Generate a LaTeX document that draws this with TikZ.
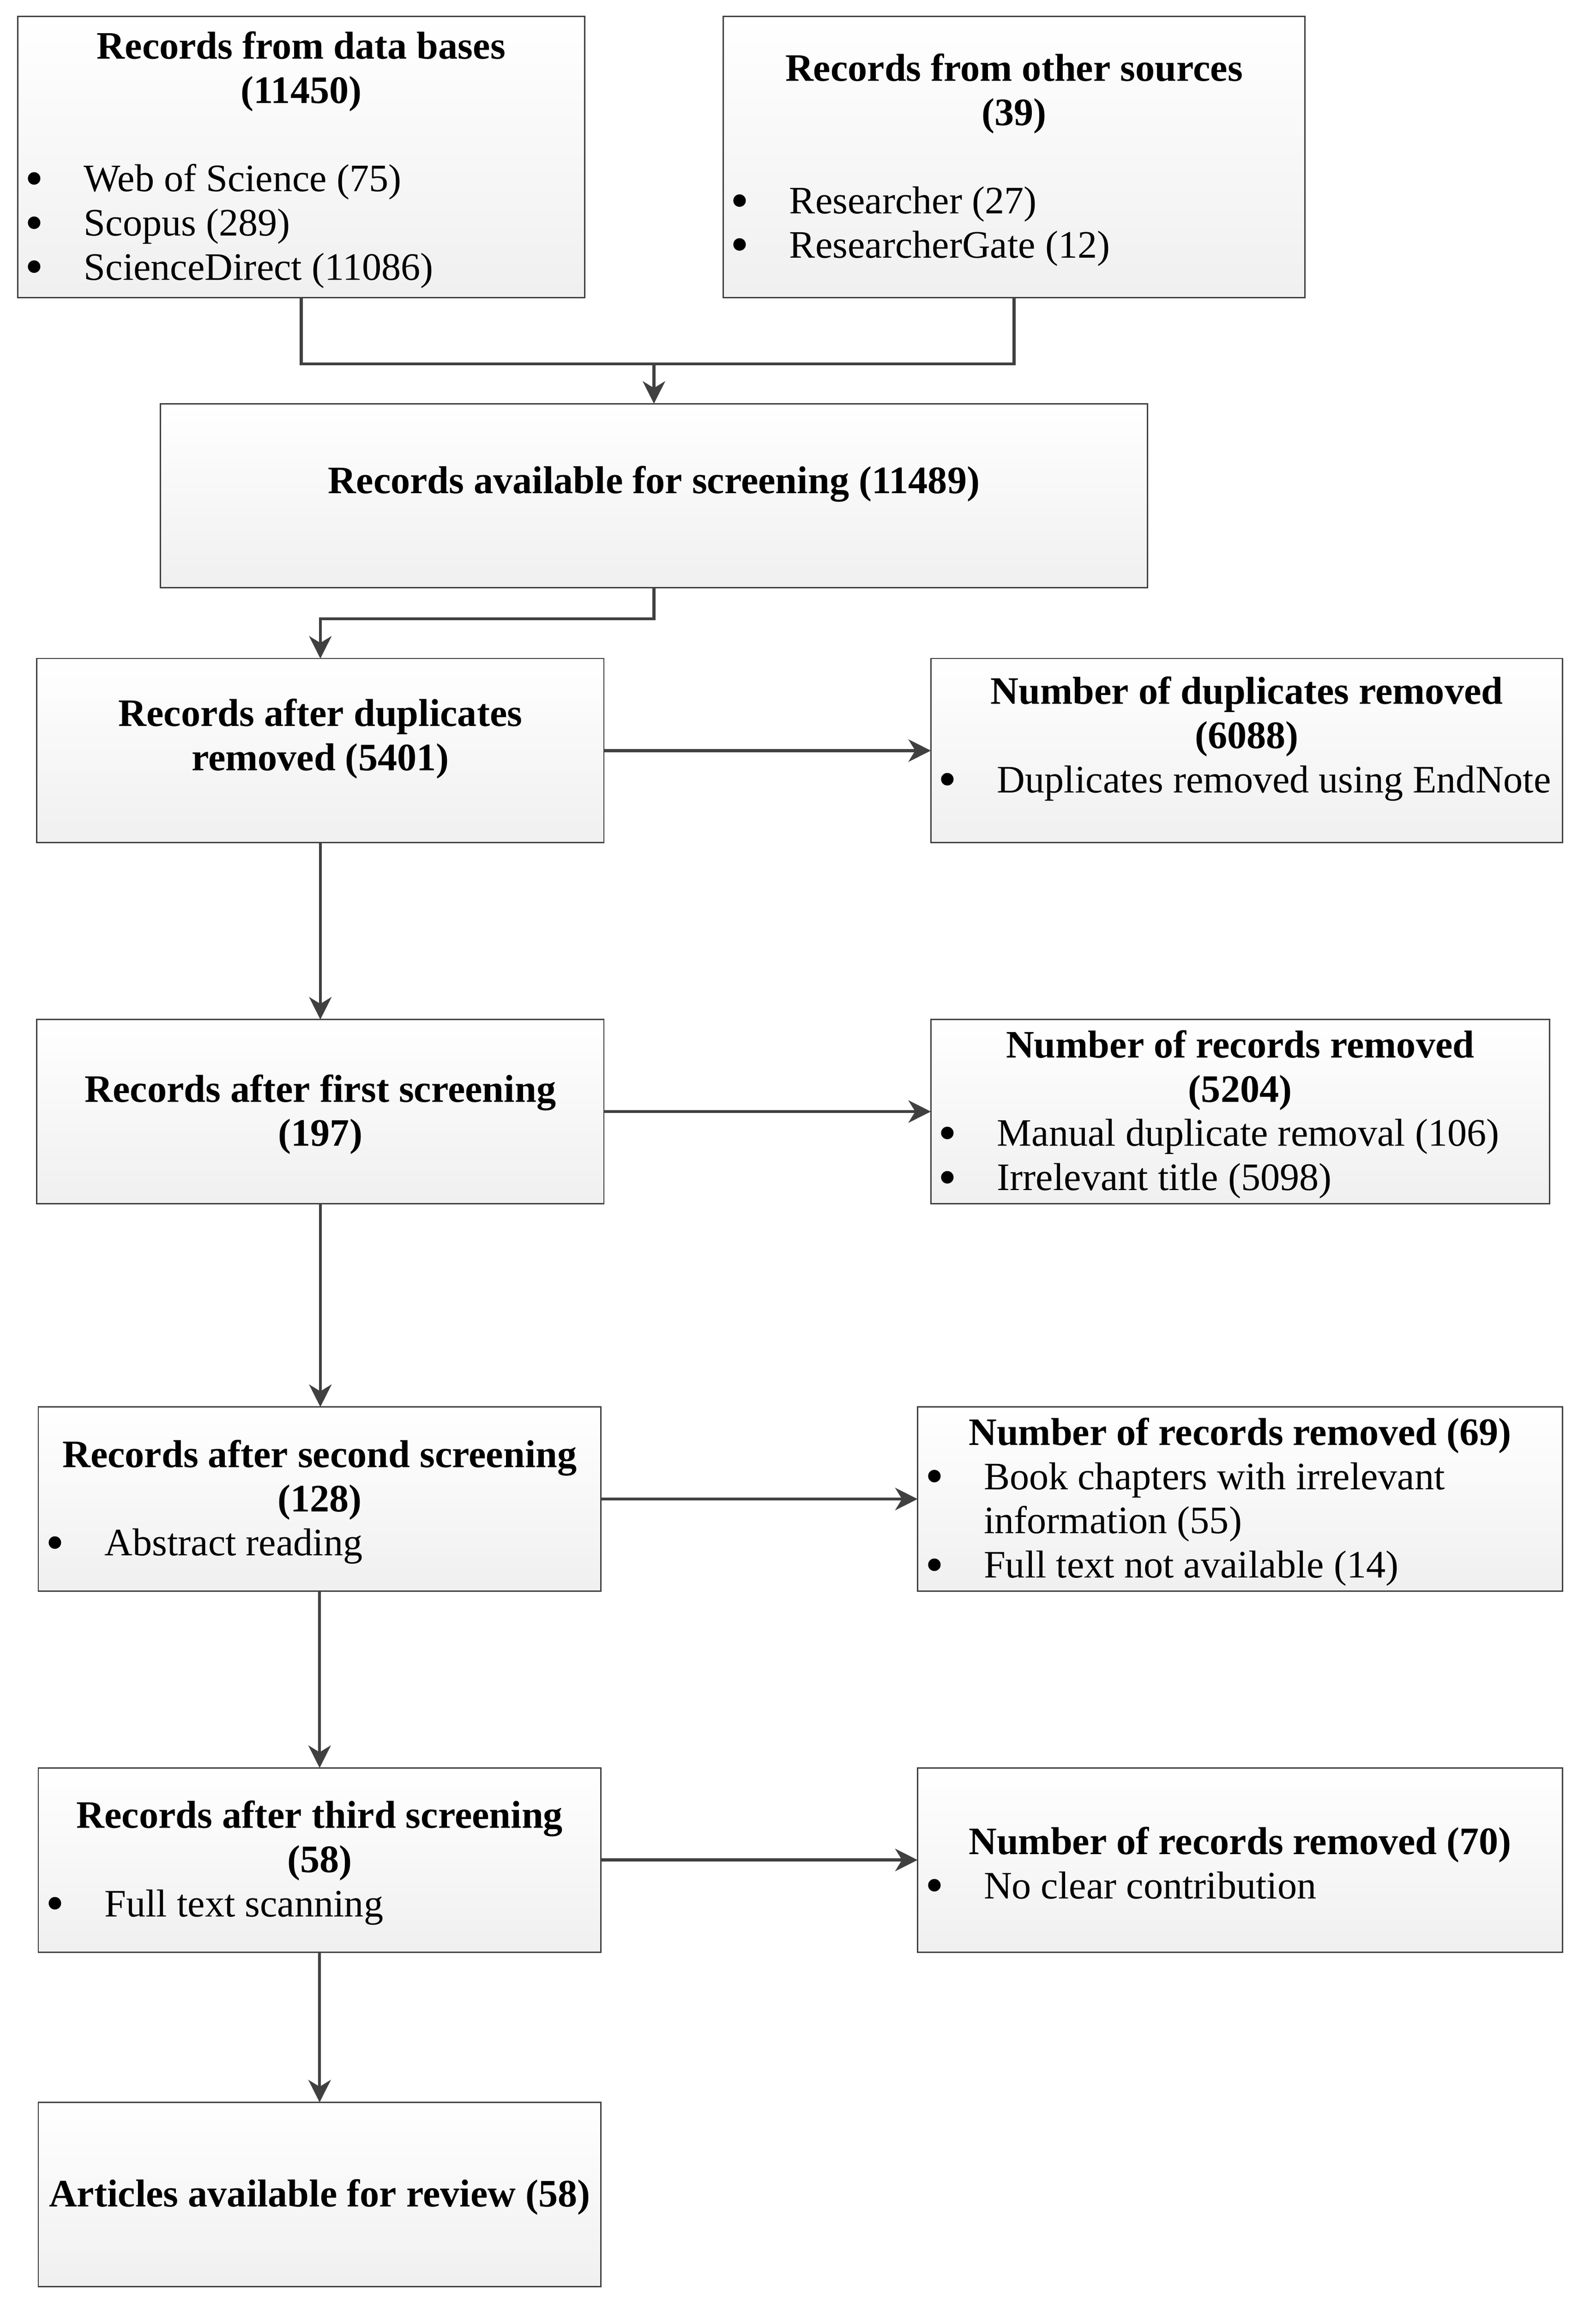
\documentclass[tikz,border=0pt]{standalone}
\usepackage{fontspec}
\usepackage{graphicx}
\setmainfont{Liberation Serif}
\usetikzlibrary{arrows.meta}
\tikzset{
  flowbox/.style={draw=black!75, line width=0.45pt, top color=white, bottom color=black!6,
    inner sep=0pt, outer sep=0pt, font=\fontsize{13.2}{15}\selectfont},
  conn/.style={draw=black!75, line width=1pt},
  arr/.style={conn, -{Stealth[length=7.6pt,width=7.6pt,inset=2.3pt]}},
}
\newcommand\bigbul{\smash{\raisebox{-0.25ex}{\scalebox{1.35}{\textbullet}}}}
\newcommand\bitem[1]{\par\noindent\hspace*{2.6pt}\makebox[19.9pt][l]{\bigbul}#1}
\newcommand\btitle[1]{\vspace*{2pt}{\centering\bfseries #1\par}}
\newcommand\blankln{\vspace{15pt}}
\begin{document}
\begin{tikzpicture}[x=0.5pt,y=-0.5pt]
\useasboundingbox (0,0) rectangle (1083.4,1567.3);

\node[flowbox, minimum width=192.5pt, minimum height=95.5pt] (A) at (204.5,106.5)
  {\parbox{192.5pt}{\btitle{Records from data bases\\(11450)}\blankln\raggedright
   \bitem{Web of Science (75)}\bitem{Scopus (289)}\bitem{ScienceDirect (11086)}}};
\node[flowbox, minimum width=197.5pt, minimum height=95.5pt] (B) at (688.5,106.5)
  {\parbox{197.5pt}{\btitle{Records from other sources\\(39)}\blankln\raggedright
   \bitem{Researcher (27)}\bitem{ResearcherGate (12)}}};
\node[flowbox, minimum width=335pt, minimum height=62.5pt] (C) at (444,336.5)
  {\parbox{335pt}{\btitle{Records available for screening (11489)}\vspace{10pt}}};
\node[flowbox, minimum width=192.5pt, minimum height=62.5pt] (D) at (217.5,509.5)
  {\parbox{192.5pt}{\btitle{Records after duplicates\\removed (5401)}\vspace{10pt}}};
\node[flowbox, minimum width=214.5pt, minimum height=62.5pt] (E) at (846.5,509.5)
  {\parbox{214.5pt}{\btitle{Number of duplicates removed\\(6088)}\raggedright
   \bitem{Duplicates removed using EndNote}\par\vspace{10pt}}};
\node[flowbox, minimum width=192.5pt, minimum height=62.5pt] (F) at (217.5,754.5)
  {\parbox{192.5pt}{\btitle{Records after first screening\\(197)}}};
\node[flowbox, minimum width=210pt, minimum height=62.5pt] (G) at (842,754.5)
  {\parbox{210pt}{\btitle{Number of records removed\\(5204)}\raggedright
   \bitem{Manual duplicate removal (106)}\bitem{Irrelevant title (5098)}}};
\node[flowbox, minimum width=191pt, minimum height=62.5pt] (H) at (217,1017.5)
  {\parbox{191pt}{\btitle{Records after second screening\\(128)}\raggedright
   \bitem{Abstract reading}}};
\node[flowbox, minimum width=219pt, minimum height=62.5pt] (I) at (842,1017.5)
  {\parbox{219pt}{\btitle{Number of records removed (69)}\raggedright
   \bitem{Book chapters with irrelevant}\par\noindent\hspace*{22.5pt}information (55)
   \bitem{Full text not available (14)}}};
\node[flowbox, minimum width=191pt, minimum height=62.5pt] (J) at (217,1262.5)
  {\parbox{191pt}{\btitle{Records after third screening\\(58)}\raggedright
   \bitem{Full text scanning}}};
\node[flowbox, minimum width=219pt, minimum height=62.5pt] (K) at (842,1262.5)
  {\parbox{219pt}{\btitle{Number of records removed (70)}\raggedright
   \bitem{No clear contribution}}};
\node[flowbox, minimum width=191pt, minimum height=62.5pt] (L) at (217,1489.5)
  {\parbox{191pt}{\btitle{Articles available for review (58)}}};

\coordinate (join) at (444,247);
\draw[conn] (A.south) |- (join) -| (B.south);
\draw[arr] (join) -- (C.north);
\draw[arr] (C.south) -- ++(0,21) -| (D.north);
\draw[arr] (D.east) -- (E.west);
\draw[arr] (D.south) -- (D.south |- F.north);
\draw[arr] (F.east) -- (G.west);
\draw[arr] (F.south) -- (F.south |- H.north);
\draw[arr] (H.east) -- (I.west);
\draw[arr] (H.south) -- (H.south |- J.north);
\draw[arr] (J.east) -- (K.west);
\draw[arr] (J.south) -- (J.south |- L.north);
\end{tikzpicture}
\end{document}
